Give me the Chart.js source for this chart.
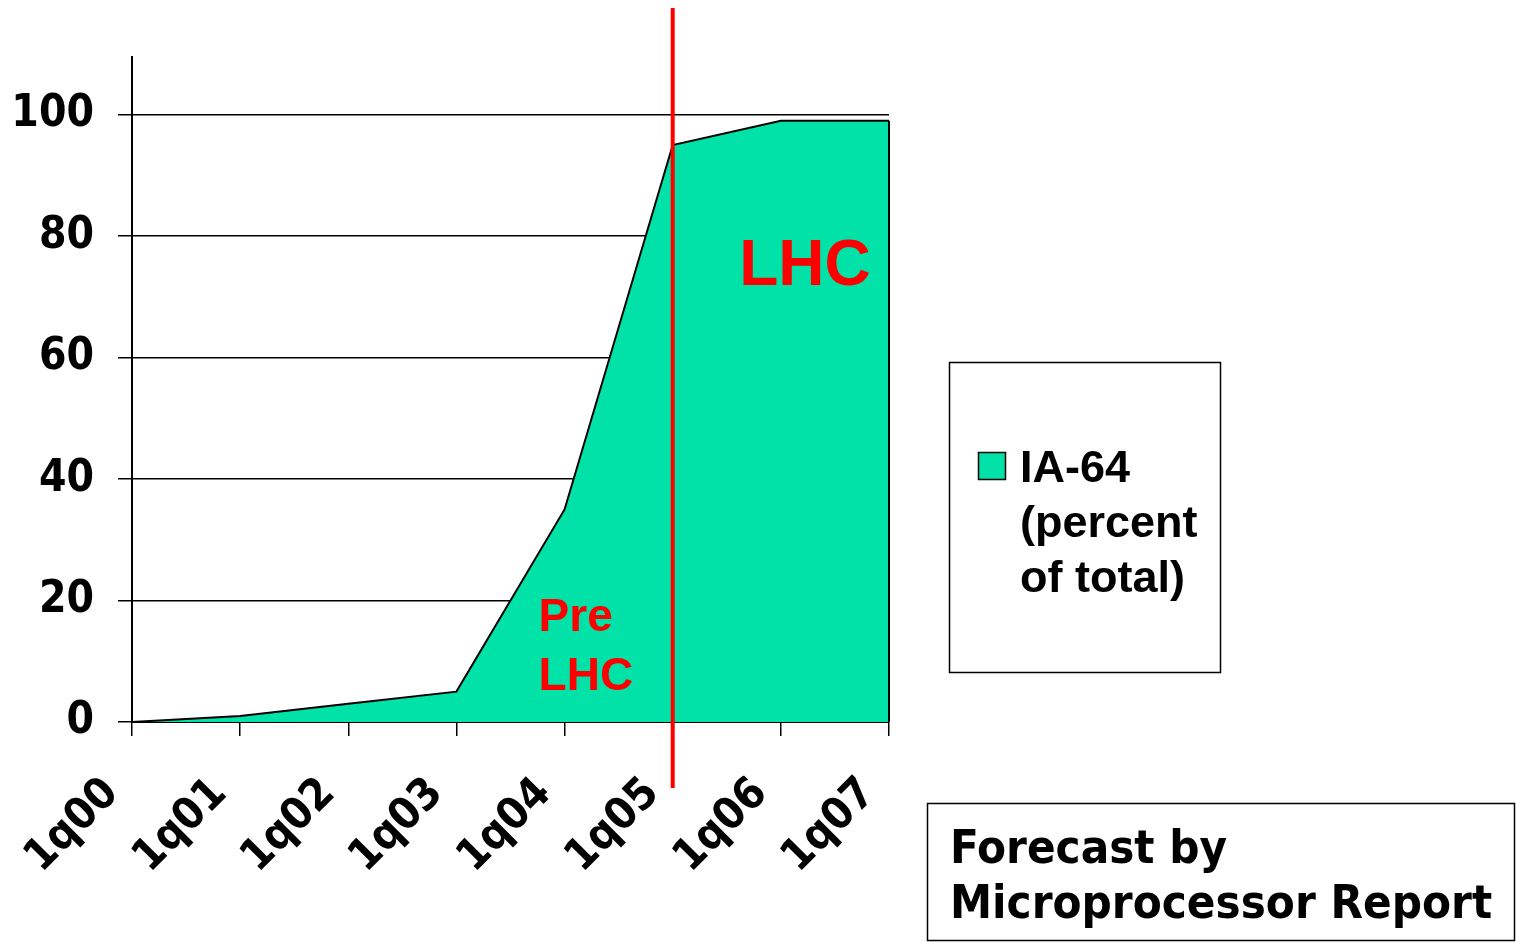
<!DOCTYPE html>
<html>
<head>
<meta charset="utf-8">
<script src="https://cdn.jsdelivr.net/npm/chart.js@4.4.1/dist/chart.umd.min.js"></script>
<style>
  html, body { margin: 0; padding: 0; background: #fff; }
  #wrap { position: relative; width: 1516px; height: 942px; }
</style>
</head>
<body>
<div id="wrap"><canvas id="ia64Chart" width="1516" height="942"></canvas></div>
<script>
// data
const quarters = ['1q00', '1q01', '1q02', '1q03', '1q04', '1q05', '1q06', '1q07'];
const ia64Share = [0, 1, 3, 5, 35, 95, 99, 99];
const yTicks = [0, 20, 40, 60, 80, 100];
const seriesLabel = ['IA-64', '(percent', 'of total)'];
const lhcStart = 5; // index of 1q05, where the red line sits
const noteLines = ['Forecast by', 'Microprocessor Report'];

const axisFont = { family: "'DejaVu Sans Condensed', 'DejaVu Sans', sans-serif", size: 44, weight: 'bold' };
const fillColor = '#00e2a8';

// Extra drawing: red divider, LHC labels, legend box, footnote box
const overlayPlugin = {
    id: 'overlay',
    afterDatasetsDraw(chart) {
        const ctx = chart.ctx;
        const x = chart.scales.x, y = chart.scales.y;
        const area = chart.chartArea;

        // close the right edge of the area
        const last = ia64Share.length - 1;
        ctx.save();
        ctx.strokeStyle = '#000';
        ctx.lineWidth = 2;
        ctx.beginPath();
        ctx.moveTo(x.getPixelForValue(last), y.getPixelForValue(ia64Share[last]));
        ctx.lineTo(x.getPixelForValue(last), y.getPixelForValue(0));
        ctx.stroke();

        // red divider at 1q05
        const lx = x.getPixelForValue(lhcStart);
        ctx.strokeStyle = '#ff0000';
        ctx.lineWidth = 4;
        ctx.beginPath();
        ctx.moveTo(lx, area.top - 49);
        ctx.lineTo(lx, area.bottom + 66);
        ctx.stroke();

        // red annotations
        ctx.fillStyle = '#ff0000';
        ctx.textBaseline = 'alphabetic';
        ctx.textAlign = 'center';
        ctx.font = "bold 64px 'Liberation Sans', Arial, sans-serif";
        ctx.fillText('LHC', (x.getPixelForValue(6) + x.getPixelForValue(7)) / 2 - 30, y.getPixelForValue(72));
        ctx.textAlign = 'left';
        ctx.font = "bold 46px 'Liberation Sans', Arial, sans-serif";
        ctx.fillText('Pre', x.getPixelForValue(4) - 26, y.getPixelForValue(15));
        ctx.fillText('LHC', x.getPixelForValue(4) - 26, y.getPixelForValue(5.2));

        // legend box
        ctx.strokeStyle = '#000';
        ctx.lineWidth = 1.5;
        ctx.strokeRect(949.5, 362.5, 271, 310);
        ctx.fillStyle = fillColor;
        ctx.fillRect(978, 452, 27, 27);
        ctx.strokeRect(978.5, 452.5, 27, 27);
        ctx.fillStyle = '#000';
        ctx.font = "bold 45px 'Liberation Sans', Arial, sans-serif";
        seriesLabel.forEach((t, i) => ctx.fillText(t, 1020, 482 + i * 55));

        // footnote box
        ctx.strokeRect(927.5, 803.5, 587, 137);
        ctx.font = "bold 47px 'DejaVu Sans Condensed', 'DejaVu Sans', sans-serif";
        noteLines.forEach((t, i) => ctx.fillText(t, 950, 863 + i * 55));
        ctx.restore();
    }
};

new Chart(document.getElementById('ia64Chart').getContext('2d'), {
    type: 'line',
    data: {
        labels: quarters,
        datasets: [{
            label: seriesLabel.join(' '),
            data: ia64Share,
            fill: 'origin',
            backgroundColor: fillColor,
            borderColor: '#000',
            borderWidth: 2,
            tension: 0,
            pointRadius: 0
        }]
    },
    options: {
        responsive: false,
        animation: false,
        events: [],
        layout: { padding: { top: 57, right: 627, left: 0, bottom: 0 } },
        plugins: { legend: { display: false }, tooltip: { enabled: false } },
        scales: {
            x: {
                offset: false,
                afterFit: (s) => { s.height = 220; },
                grid: { drawOnChartArea: false, drawTicks: true, tickLength: 14, color: '#000', lineWidth: 1.5 },
                border: { color: '#000', width: 2 },
                ticks: { color: '#000', font: axisFont, maxRotation: 45, minRotation: 45, padding: 32, labelOffset: -20, autoSkip: false }
            },
            y: {
                min: 0,
                max: 109.5,
                afterFit: (s) => { s.width = 132; },
                afterBuildTicks: (s) => { s.ticks = yTicks.map(v => ({ value: v })); },
                grid: { color: '#000', lineWidth: 1.5, tickLength: 14 },
                border: { color: '#000', width: 2 },
                ticks: { color: '#000', font: axisFont, padding: 24 }
            }
        }
    },
    plugins: [overlayPlugin]
});
</script>
</body>
</html>
